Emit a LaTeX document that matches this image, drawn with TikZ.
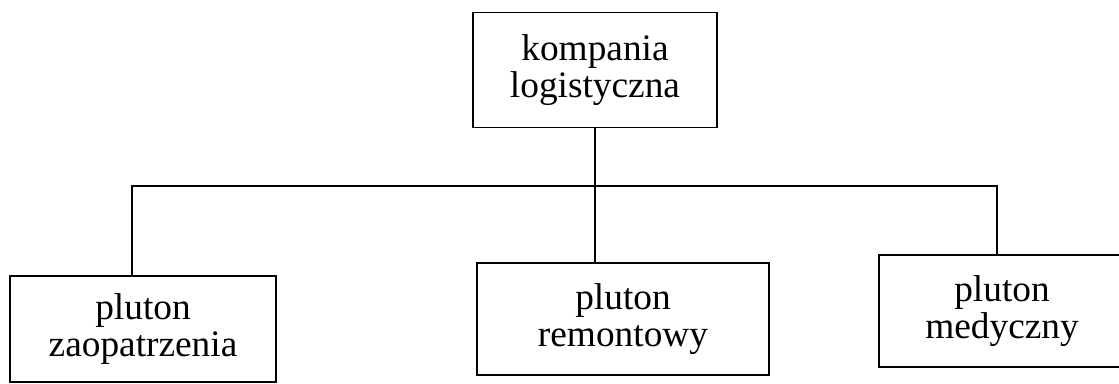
\documentclass[tikz,border=0pt]{standalone}
\usepackage{fontspec}
\setmainfont{Liberation Serif}
\usetikzlibrary{calc}
\tikzset{
  unitbox/.style={draw, line width=1.1pt, align=center, inner sep=0pt,
    font=\fontsize{28}{28}\selectfont},
  link/.style={line width=1.1pt}
}
\begin{document}
\begin{tikzpicture}[x=0.75pt, y=-0.75pt]
  \useasboundingbox (0,0) rectangle (1119,384);
  \clip (0,0) rectangle (1119,384);
  % head unit
  \node[unitbox, minimum width=183pt, minimum height=86.25pt]
    (kompania) at (595,70) {kompania\\logistyczna};
  % platoons
  \node[unitbox, minimum width=199.5pt, minimum height=79.5pt]
    (zaop) at (143,329) {pluton\\zaopatrzenia};
  \node[unitbox, minimum width=219pt, minimum height=84pt]
    (remont) at (623,319) {pluton\\remontowy};
  \node[unitbox, minimum width=184.5pt, minimum height=84pt]
    (medyk) at (1002,311) {pluton\\medyczny};
  % connectors
  \coordinate (railL) at (132,186);
  \coordinate (railR) at (997,186);
  \draw[link] (zaop.north -| railL) -- (railL) -- (railR) -- (medyk.north -| railR);
  \draw[link] (kompania.south) -- (remont.north -| kompania.south);
\end{tikzpicture}
\end{document}
